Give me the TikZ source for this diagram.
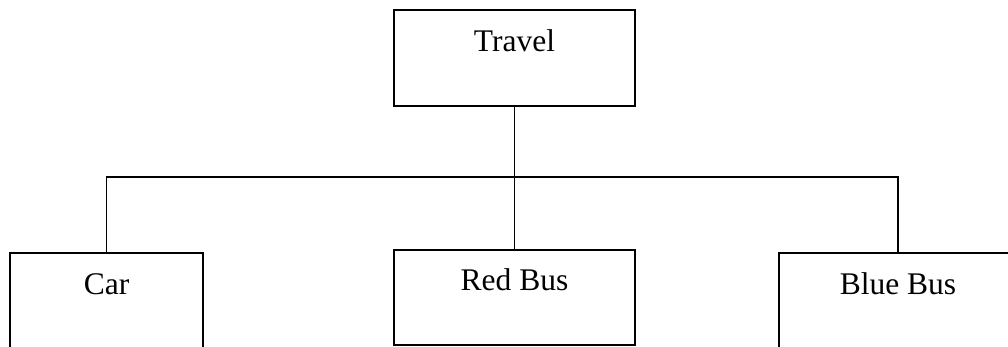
\documentclass[tikz,border=0pt]{standalone}
\usepackage{fontspec}
\setmainfont{Liberation Serif}
\begin{document}
\begin{tikzpicture}[x=1pt,y=-1pt,
  box/.style={draw, line width=2pt, inner sep=0pt, anchor=north west,
    font=\fontsize{31.5}{36}\selectfont},
  conn/.style={line width=1.5pt}]
\useasboundingbox (0,0) rectangle (1008,346);
\clip (0,0) rectangle (1008,346);
\node[box, minimum width=241pt, text height=41pt, text depth=55pt] (travel) at (393,9) {Travel};
\node[box, minimum width=193pt, text height=41pt, text depth=150pt] (car) at (9,252) {Car};
\node[box, minimum width=241pt, text height=40pt, text depth=55pt] (redbus) at (393,249) {Red Bus};
\node[box, minimum width=238pt, text height=41pt, text depth=150pt] (blue) at (778,252) {Blue Bus};
\coordinate (bar) at (513.5,177);
\draw[conn] (travel.south) -- (redbus.north);
\draw[conn] (car.north) |- (bar) -| (blue.north);
\end{tikzpicture}
\end{document}
